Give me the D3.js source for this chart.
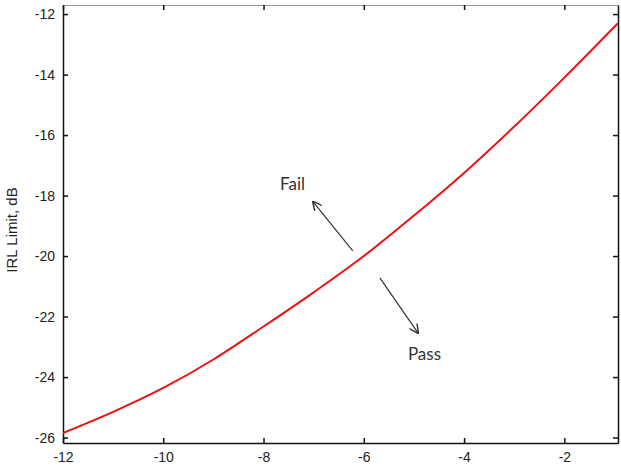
<!DOCTYPE html>
<html>
<head>
<meta charset="utf-8">
<script src="https://cdn.jsdelivr.net/npm/d3@7"></script>
<style>
  body { margin: 0; background: #fff; }
  svg { display: block; }
</style>
</head>
<body>
<svg id="chart"></svg>
<script>
// IRL limit curve
var xVals = [-12, -11, -10, -9, -8, -7, -6, -5, -4, -3, -2, -0.93];
var irlLimit = [-25.85, -25.15, -24.36, -23.42, -22.33, -21.2, -20.0, -18.66, -17.25, -15.72, -14.1, -12.3];
var xTicks = [-12, -10, -8, -6, -4, -2];
var yTicks = [-26, -24, -22, -20, -18, -16, -14, -12];

var width = 621, height = 468;
var margin = {top: 5, right: 3, bottom: 25, left: 63};
var tickFont = "'Liberation Sans', Arial, Helvetica, sans-serif";

var svg = d3.select("#chart")
  .attr("width", width)
  .attr("height", height);

var x = d3.scaleLinear()
  .domain([-12, -0.93])
  .range([margin.left, width - margin.right]);

var y = d3.scaleLinear()
  .domain([-26.18, -11.7])
  .range([height - margin.bottom, margin.top]);

var fmt = function(d) { return String(d); };  // plain hyphen like matlab

// axes, ticks pointing inward like matlab
var xAxis = svg.append("g")
  .attr("transform", "translate(0," + (height - margin.bottom) + ")")
  .call(d3.axisBottom(x).tickValues(xTicks).tickFormat(fmt).tickSizeInner(-5).tickSizeOuter(0).tickPadding(12));
var yAxis = svg.append("g")
  .attr("transform", "translate(" + margin.left + ",0)")
  .call(d3.axisLeft(y).tickValues(yTicks).tickFormat(fmt).tickSizeInner(-5).tickSizeOuter(0).tickPadding(8));
var xTop = svg.append("g")
  .attr("transform", "translate(0," + margin.top + ")")
  .call(d3.axisTop(x).tickValues(xTicks).tickSizeInner(-5).tickSizeOuter(0).tickFormat(""));
var yRight = svg.append("g")
  .attr("transform", "translate(" + (width - margin.right) + ",0)")
  .call(d3.axisRight(y).tickValues(yTicks).tickSizeInner(-5).tickSizeOuter(0).tickFormat(""));

svg.selectAll(".domain").attr("stroke", "#111").attr("stroke-width", 1.5);
xTop.select(".domain").attr("stroke", "#999").attr("stroke-width", 1);
svg.selectAll(".tick line").attr("stroke", "#111").attr("stroke-width", 1.5);
svg.selectAll(".tick text")
  .attr("font-family", tickFont)
  .attr("font-size", 14)
  .attr("fill", "#222");
xAxis.selectAll(".tick text").attr("dy", "0.5em");

// y label
svg.append("text")
  .attr("transform", "translate(17," + ((margin.top + height - margin.bottom) / 2 + 6) + ") rotate(-90)")
  .attr("text-anchor", "middle")
  .attr("font-family", tickFont)
  .attr("font-size", 15)
  .attr("fill", "#222")
  .text("IRL Limit, dB");

// the curve
var line = d3.line()
  .x(function(d, i) { return x(xVals[i]); })
  .y(function(d) { return y(d); })
  .curve(d3.curveMonotoneX);

svg.append("path")
  .datum(irlLimit)
  .attr("fill", "none")
  .attr("stroke", "#ee1111")
  .attr("stroke-width", 2)
  .attr("d", line);

// arrows
var defs = svg.append("defs");
defs.append("marker")
  .attr("id", "head")
  .attr("viewBox", "0 0 10 10")
  .attr("refX", 9).attr("refY", 5)
  .attr("markerWidth", 8).attr("markerHeight", 8)
  .attr("orient", "auto")
  .append("path")
  .attr("d", "M0,0 L10,5 L0,10")
  .attr("fill", "none")
  .attr("stroke", "#333")
  .attr("stroke-width", 1.5);

var arrows = [
  {x1: -6.22, y1: -19.83, x2: -7.01, y2: -18.21},
  {x1: -5.68, y1: -20.72, x2: -4.92, y2: -22.54}
];
arrows.forEach(function(a) {
  svg.append("line")
    .attr("x1", x(a.x1)).attr("y1", y(a.y1))
    .attr("x2", x(a.x2)).attr("y2", y(a.y2))
    .attr("stroke", "#333")
    .attr("stroke-width", 1.2)
    .attr("marker-end", "url(#head)");
});

var notes = [
  {label: "Fail", xv: -7.67, yv: -17.82},
  {label: "Pass", xv: -5.12, yv: -23.44}
];
notes.forEach(function(n) {
  svg.append("text")
    .attr("x", x(n.xv))
    .attr("y", y(n.yv))
    .attr("font-family", "Lato, 'Open Sans', sans-serif")
    .attr("font-size", 17)
    .attr("fill", "#333")
    .text(n.label);
});
</script>
</body>
</html>
